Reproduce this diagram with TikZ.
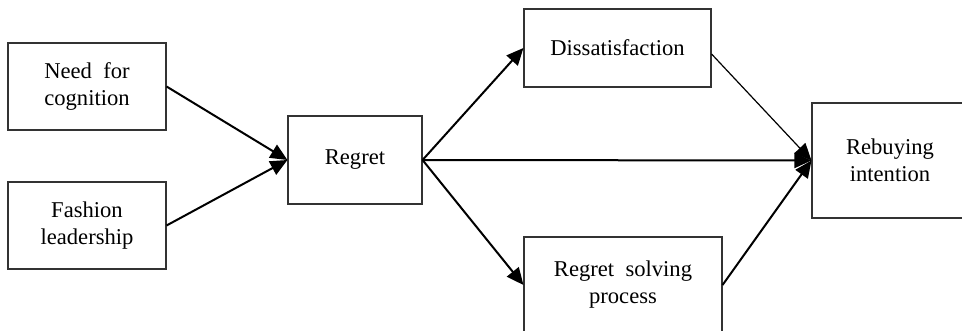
\documentclass[tikz,border=0pt]{standalone}
\usepackage{fontspec}
\setmainfont{Liberation Serif}
\usetikzlibrary{arrows.meta}
\begin{document}
\begin{tikzpicture}[x=1pt,y=-1pt,
  box/.style={draw=black!80,line width=1.1pt,fill=white,inner sep=0pt,align=center,
    font=\fontsize{22.6}{27}\selectfont},
  conn/.style={line width=2pt,-{Triangle[length=17pt,width=15pt]}},
  thinconn/.style={line width=1.2pt,-{Triangle[length=17pt,width=15pt]}}]
\useasboundingbox (0,0) rectangle (962,331);
\clip (0,0) rectangle (962,331);
\node[box,minimum width=158pt,minimum height=87pt] (n1) at (87,86.5) {Need\hspace{0.5em}for\\cognition};
\node[box,minimum width=158pt,minimum height=87pt] (n2) at (87,225.5) {Fashion\\leadership};
\node[box,minimum width=134pt,minimum height=88pt] (reg) at (355,160) {Regret};
\node[box,minimum width=187pt,minimum height=78pt] (dis) at (617.5,48) {Dissatisfaction};
\node[box,minimum width=198pt,minimum height=96pt] (rsp) at (623,285) {Regret\hspace{0.5em}solving\\process};
\node[box,minimum width=156pt,minimum height=115pt] (reb) at (890,160.5) {Rebuying\\intention};
\draw[conn] (n1.east) -- (reg.west);
\draw[conn] (n2.east) -- (reg.west);
\draw[conn] (reg.east) -- (dis.west);
\draw[conn] (reg.east) -- (rsp.west);
\draw[conn] (reg.east) -- (reb.west);
\draw[thinconn] ([yshift=-6pt]dis.east) -- (reb.west);
\draw[conn] (rsp.east) -- (reb.west);
\end{tikzpicture}
\end{document}
